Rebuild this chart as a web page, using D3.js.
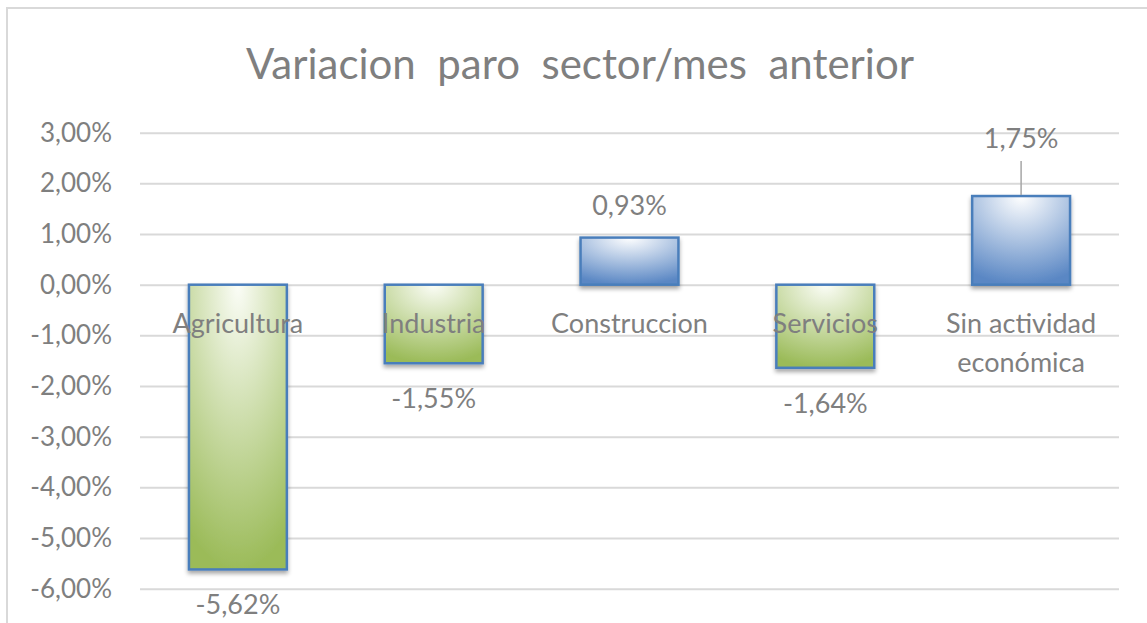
<!DOCTYPE html>
<html><head><meta charset="utf-8">
<script src="https://cdn.jsdelivr.net/npm/d3@7"></script>
<style>
html,body{margin:0;padding:0;background:#fff;}
svg{display:block;}
text{font-family:Lato,"Liberation Sans",sans-serif;fill:#7f7f7f;}
</style></head>
<body>
<script>
const title = "Variacion  paro  sector/mes  anterior";
const categories = ["Agricultura", "Industria", "Construccion", "Servicios", "Sin actividad económica"];
const values = [-0.0562, -0.0155, 0.0093, -0.0164, 0.0175];
const yTicks = [0.03, 0.02, 0.01, 0, -0.01, -0.02, -0.03, -0.04, -0.05, -0.06];

const W = 1147, H = 623;
const svg = d3.select("body").append("svg").attr("width", W).attr("height", H);

const defs = svg.append("defs");
function grad(id, c1, c2) {
  const g = defs.append("radialGradient").attr("id", id)
    .attr("cx", "50%").attr("cy", "0%").attr("r", "100%").attr("fx", "50%").attr("fy", "0%");
  g.append("stop").attr("offset", "0%").attr("stop-color", c1);
  g.append("stop").attr("offset", "100%").attr("stop-color", c2);
}
grad("gGreen", "#fbfdf7", "#9bbb59");
grad("gBlue", "#ffffff", "#5a87c4");
const f = defs.append("filter").attr("id", "sh").attr("x", "-20%").attr("y", "-20%").attr("width", "140%").attr("height", "140%");
f.append("feDropShadow").attr("dx", 0).attr("dy", 3).attr("stdDeviation", 2)
  .attr("flood-color", "#000").attr("flood-opacity", 0.35);

// chart border (cropped on right/bottom)
svg.append("path").attr("d", `M7,${H + 5} V8 H${W + 5}`)
  .attr("fill", "none").attr("stroke", "#d9d9d9").attr("stroke-width", 2);

const x = d3.scaleBand().domain(categories).range([140, 1119]).paddingInner(0.5).paddingOuter(0.25);
const y = d3.scaleLinear().domain([-0.06, 0.03]).range([588.7, 132.7]);

const loc = d3.formatLocale({decimal: ",", thousands: ".", grouping: [3], currency: ["", "€"], minus: "-"});
const fmt = loc.format(".2%");

// title
svg.append("text").attr("x", 580).attr("y", 79).attr("text-anchor", "middle")
  .style("font-size", "42px").style("white-space", "pre").attr("xml:space", "preserve").text(title);

// gridlines + tick labels
const axis = d3.axisLeft(y).tickValues(yTicks).tickFormat(fmt).tickSize(-(1119 - 140)).tickPadding(28);
const ga = svg.append("g").attr("transform", "translate(140,0)").call(axis);
ga.select(".domain").remove();
ga.selectAll(".tick line").attr("stroke", "#d9d9d9").attr("stroke-width", 2);
ga.selectAll(".tick text").attr("fill", "#7f7f7f").style("font-size", "26px").style("font-family", "Lato, sans-serif");

// bars
svg.append("g").selectAll("rect").data(values).join("rect")
  .attr("x", (d, i) => x(categories[i]))
  .attr("width", x.bandwidth())
  .attr("y", d => y(Math.max(0, d)))
  .attr("height", d => Math.abs(y(d) - y(0)))
  .attr("fill", d => d < 0 ? "url(#gGreen)" : "url(#gBlue)")
  .attr("stroke", "#4a7ebb").attr("stroke-width", 2.5)
  .attr("filter", "url(#sh)");

// category labels
const cl = svg.append("g").selectAll("text").data(categories).join("text")
  .attr("text-anchor", "middle")
  .attr("x", d => x(d) + x.bandwidth() / 2)
  .attr("y", 333)
  .style("font-size", "27px");
cl.each(function (d) {
  const t = d3.select(this);
  const parts = d === "Sin actividad económica" ? ["Sin actividad", "económica"] : [d];
  parts.forEach((p, k) => t.append("tspan").attr("x", x(d) + x.bandwidth() / 2).attr("dy", k ? 39 : 0).text(p));
});

// data labels
svg.append("g").selectAll("text").data(values).join("text")
  .attr("text-anchor", "middle")
  .attr("x", (d, i) => x(categories[i]) + x.bandwidth() / 2)
  .attr("y", (d, i) => i === 4 ? y(d) - 48 : (d < 0 ? y(d) + 45 : y(d) - 23))
  .style("font-size", "27px")
  .text(d => fmt(d));

// leader line for last label
const cx4 = x(categories[4]) + x.bandwidth() / 2;
svg.append("line").attr("x1", cx4).attr("x2", cx4)
  .attr("y1", y(values[4]) - 35).attr("y2", y(values[4]) - 1)
  .attr("stroke", "#a6a6a6").attr("stroke-width", 1.5);
</script>
</body></html>
